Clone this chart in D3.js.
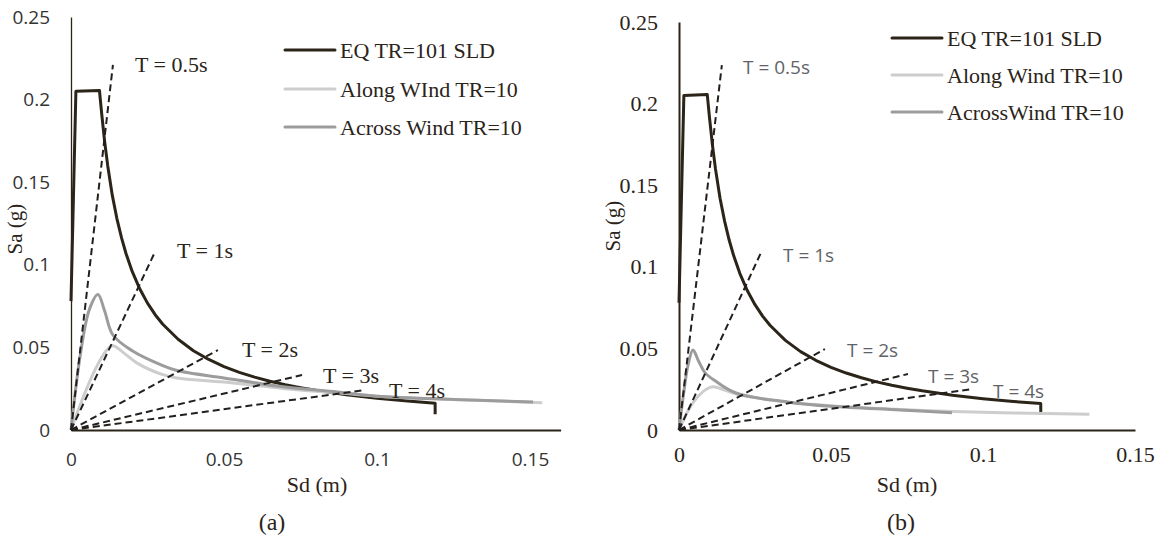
<!DOCTYPE html>
<html>
<head>
<meta charset="utf-8">
<script src="https://cdn.jsdelivr.net/npm/d3@7"></script>
<style>
  body { margin: 0; background: #fff; }
  svg { display: block; }
</style>
</head>
<body>
<div id="chart"></div>
<script>
// tick values
const xTicks = [0, 0.05, 0.1, 0.15];
const yTicks = [0, 0.05, 0.1, 0.15, 0.2, 0.25];

// legend labels (the two panels spell them differently)
const legendA = ["EQ TR=101 SLD", "Along WInd TR=10", "Across Wind TR=10"];
const legendB = ["EQ TR=101 SLD", "Along Wind TR=10", "AcrossWind TR=10"];
const periodLabels = ["T = 0.5s", "T = 1s", "T = 2s", "T = 3s", "T = 4s"];

// constant period lines, end point [Sd, Sa] (they start at 0,0)
const periodEndA = [[0.0137, 0.221], [0.0275, 0.108], [0.048, 0.0484], [0.0755, 0.0333], [0.0961, 0.0242]];
const periodEndB = [[0.0141, 0.2236], [0.0273, 0.110], [0.048, 0.0496], [0.0753, 0.0343], [0.0964, 0.0251]];

// EQ spectrum [Sd (m), Sa (g)]
const eqSpectrum = [
  [0, 0.078], [0.0016, 0.205], [0.0093, 0.2055], [0.0100, 0.192], [0.011, 0.1745],
  [0.012, 0.160], [0.0135, 0.142], [0.015, 0.128], [0.0165, 0.1164], [0.018, 0.1067],
  [0.02, 0.096], [0.0225, 0.0853], [0.025, 0.0768], [0.0275, 0.0698], [0.03, 0.064],
  [0.035, 0.0549], [0.04, 0.048], [0.045, 0.0427], [0.05, 0.0384], [0.055, 0.0349],
  [0.06, 0.032], [0.065, 0.0295], [0.07, 0.0274], [0.075, 0.0256], [0.08, 0.024],
  [0.09, 0.0213], [0.1, 0.0192], [0.11, 0.0175], [0.119, 0.0162], [0.119, 0.0095]
];

// panel (a) wind spectra
const alongA = [
  [0, 0], [0.004, 0.02], [0.008, 0.037], [0.0115, 0.048], [0.0137, 0.051], [0.017, 0.047],
  [0.0216, 0.0405], [0.03, 0.0335], [0.0346, 0.0315], [0.05, 0.029], [0.07, 0.025],
  [0.087, 0.0225], [0.1, 0.0205], [0.125, 0.0185], [0.154, 0.0165]
];
const acrossA = [
  [0, 0], [0.003, 0.045], [0.006, 0.073], [0.0088, 0.082], [0.011, 0.072], [0.0137, 0.0575],
  [0.02, 0.048], [0.03, 0.039], [0.0346, 0.036], [0.05, 0.0315], [0.07, 0.026],
  [0.087, 0.023], [0.1, 0.0205], [0.125, 0.0185], [0.151, 0.017]
];

// panel (b) wind spectra
const alongB = [
  [0, 0], [0.003, 0.012], [0.006, 0.020], [0.009, 0.025], [0.0112, 0.0265], [0.015, 0.0245],
  [0.019, 0.022], [0.0355, 0.0172], [0.05, 0.0148], [0.0727, 0.0125], [0.09, 0.0113],
  [0.11, 0.0104], [0.135, 0.0097]
];
const acrossB = [
  [0, 0], [0.0015, 0.022], [0.003, 0.04], [0.0046, 0.049], [0.0065, 0.042], [0.0086, 0.035],
  [0.012, 0.030], [0.019, 0.0225], [0.0355, 0.0172], [0.05, 0.0145], [0.0727, 0.0123],
  [0.0898, 0.0106]
];

const W = 1161, H = 539;
const serif = "'Liberation Serif', 'Times New Roman', serif";
const sans = "'Open Sans', 'Liberation Sans', sans-serif";
const ink = "#2b2419";

var svg = d3.select('#chart')
  .append('svg')
    .attr('width', W)
    .attr('height', H)
    .style('background', '#fff');

var drawPanel = function (p) {
  let x = d3.scaleLinear().domain([0, p.xMax]).range([p.x0, p.x0 + p.xMax * p.pxPerUnit]),
      y = d3.scaleLinear().domain([0, 0.25]).range([430, p.yTop]);
  let g = svg.append('g');

  // axes, no tick marks
  let xAxis = g.append('g')
    .attr('transform', 'translate(0,430)')
    .call(d3.axisBottom(x).tickValues(xTicks).tickSize(0).tickPadding(p.xPad).tickFormat(d => String(d)));
  let yAxis = g.append('g')
    .attr('transform', 'translate(' + p.x0 + ',0)')
    .call(d3.axisLeft(y).tickValues(yTicks).tickSize(0).tickPadding(21).tickFormat(d => String(d)));
  xAxis.select('.domain').attr('stroke', ink).attr('stroke-width', 2);
  yAxis.select('.domain').attr('stroke', ink).attr('stroke-width', p.yAxisWidth);
  [xAxis, yAxis].forEach(a => a.selectAll('text')
    .attr('font-family', p.tickFont)
    .attr('font-size', p.tickSize)
    .attr('fill', p.tickColor));

  let smooth = d3.line()
    .x(d => x(d[0]))
    .y(d => y(d[1]))
    .curve(d3.curveCatmullRom.alpha(0.5));
  // EQ has sharp corners, keep it straight between points
  let straight = d3.line()
    .x(d => x(d[0]))
    .y(d => y(d[1]));

  // spectra
  let series = [
    { pts: eqSpectrum, color: ink, gen: straight },
    { pts: p.along, color: '#cdcdcd', gen: smooth },
    { pts: p.across, color: '#9c9c9c', gen: smooth }
  ];
  g.selectAll('path.spec')
    .data(series)
    .enter()
      .append('path')
        .attr('class', 'spec')
        .attr('d', d => d.gen(d.pts))
        .attr('fill', 'none')
        .attr('stroke', d => d.color)
        .attr('stroke-width', 3)
        .attr('stroke-linejoin', 'round');

  // constant period lines
  g.selectAll('line.period')
    .data(p.periods)
    .enter()
      .append('line')
        .attr('class', 'period')
        .attr('x1', x(0)).attr('y1', y(0))
        .attr('x2', d => x(d[0])).attr('y2', d => y(d[1]))
        .attr('stroke', '#231f1c')
        .attr('stroke-width', 2)
        .attr('stroke-dasharray', '7,4');

  g.selectAll('text.period')
    .data(periodLabels)
    .enter()
      .append('text')
        .attr('class', 'period')
        .attr('x', (d, i) => p.periodPos[i][0])
        .attr('y', (d, i) => p.periodPos[i][1])
        .attr('font-family', p.periodFont)
        .attr('font-size', p.periodSize)
        .attr('fill', p.periodColor)
        .text(d => d);

  // legend
  let legColors = [ink, '#cdcdcd', '#9c9c9c'];
  p.legend.forEach((name, i) => {
    let ly = p.legY[i];
    g.append('line')
      .attr('x1', p.legX).attr('x2', p.legX + 50)
      .attr('y1', ly).attr('y2', ly)
      .attr('stroke', legColors[i])
      .attr('stroke-width', 3)
      .attr('stroke-linecap', 'round');
    g.append('text')
      .attr('x', p.legX + 55)
      .attr('y', ly + 8)
      .attr('font-family', serif)
      .attr('font-size', 22)
      .attr('fill', ink)
      .text(name);
  });

  // axis titles and panel tag
  g.append('text')
    .attr('transform', 'translate(' + p.yTitle[0] + ',' + p.yTitle[1] + ') rotate(-90)')
    .attr('text-anchor', 'middle')
    .attr('font-family', serif)
    .attr('font-size', 21)
    .attr('fill', ink)
    .text('Sa (g)');
  g.append('text')
    .attr('x', p.xTitle[0]).attr('y', p.xTitle[1])
    .attr('text-anchor', 'middle')
    .attr('font-family', serif)
    .attr('font-size', 22)
    .attr('fill', ink)
    .text('Sd (m)');
  g.append('text')
    .attr('x', p.tag[0]).attr('y', p.tag[1])
    .attr('text-anchor', 'middle')
    .attr('font-family', serif)
    .attr('font-size', 24)
    .attr('fill', ink)
    .text(p.tagText);
};

drawPanel({
  x0: 71, xMax: 0.16, pxPerUnit: 3060, yTop: 17, xPad: 23, yAxisWidth: 1.3,
  tickFont: sans, tickSize: 19, tickColor: '#333',
  along: alongA, across: acrossA, periods: periodEndA,
  periodPos: [[135, 72], [177, 258], [242, 357], [323, 383], [389, 398]],
  periodFont: serif, periodSize: 22, periodColor: ink,
  legend: legendA, legX: 285, legY: [50, 89, 127],
  yTitle: [22, 229], xTitle: [317, 492], tag: [272, 530], tagText: '(a)'
});

drawPanel({
  x0: 679, xMax: 0.15, pxPerUnit: 3040, yTop: 22, xPad: 16, yAxisWidth: 2,
  tickFont: serif, tickSize: 22, tickColor: ink,
  along: alongB, across: acrossB, periods: periodEndB,
  periodPos: [[743, 74], [783, 262], [847, 357], [928, 383], [993, 398]],
  periodFont: sans, periodSize: 19, periodColor: '#5f6368',
  legend: legendB, legX: 892, legY: [38, 75, 112],
  yTitle: [620, 226], xTitle: [907, 492], tag: [901, 530], tagText: '(b)'
});
</script>
</body>
</html>
